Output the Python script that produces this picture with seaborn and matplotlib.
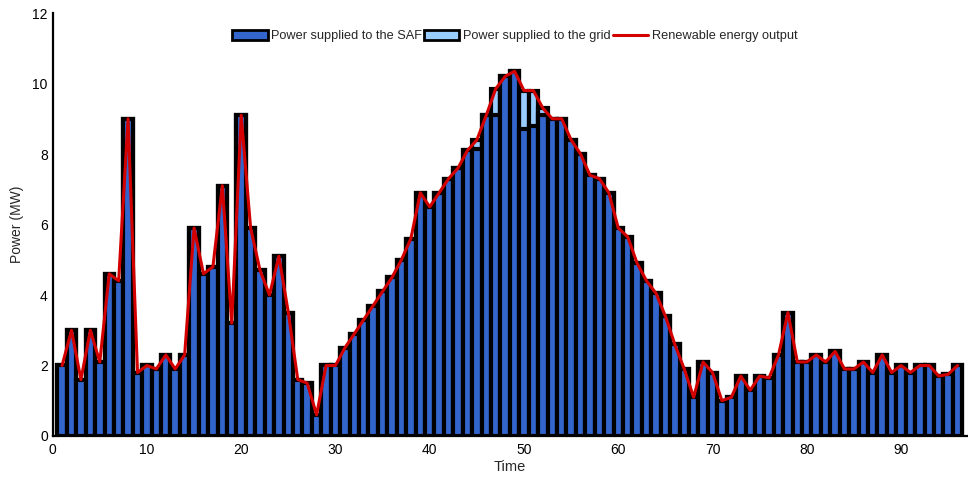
import numpy as np
import pandas as pd
import matplotlib
matplotlib.use("Agg")
import matplotlib.pyplot as plt
import seaborn as sns
from matplotlib.patches import Patch
from matplotlib.lines import Line2D

time = list(range(1, 97))
saf = [2.0, 3.0, 1.6, 3.0, 2.1, 4.6, 4.4, 9.0, 1.8, 2.0, 1.9, 2.3,
       1.9, 2.3, 5.9, 4.6, 4.8, 7.1, 3.2, 9.1, 5.9, 4.7, 4.0, 5.1,
       3.5, 1.6, 1.5, 0.6, 2.0, 2.0, 2.5, 2.9, 3.3, 3.7, 4.1, 4.5,
       5.0, 5.6, 6.9, 6.5, 6.9, 7.3, 7.6, 8.1, 8.15, 9.1, 9.1, 10.2,
       10.35, 8.7, 8.8, 9.1, 9.0, 9.0, 8.4, 8.0, 7.4, 7.3, 6.9, 5.9,
       5.65, 4.9, 4.4, 4.05, 3.4, 2.6, 1.9, 1.1, 2.1, 1.8, 1.0, 1.1,
       1.7, 1.3, 1.7, 1.65, 2.3, 3.5, 2.1, 2.1, 2.3, 2.1, 2.4, 1.9,
       1.9, 2.1, 1.8, 2.3, 1.8, 2.0, 1.8, 2.0, 2.0, 1.7, 1.75, 2.0]
grid = [0.0] * 96
grid[44] = 0.25   # t=45
grid[46] = 0.75   # t=47
grid[49] = 1.1    # t=50
grid[50] = 1.0    # t=51
grid[51] = 0.2    # t=52
renewable = [s + g for s, g in zip(saf, grid)]

df = pd.DataFrame({"Time": time, "SAF": saf, "Grid": grid, "Renewable": renewable})
df["Total"] = df["SAF"] + df["Grid"]

sns.set_style("white")
plt.rcParams["font.family"] = ["Liberation Sans", "DejaVu Sans"]

dark_blue = "#3366cc"
light_blue = "#99ccff"
red = "#d40000"

fig = plt.figure(figsize=(9.68, 4.79), dpi=100)
ax = fig.add_axes([0.0544, 0.0898, 0.9446, 0.883])

sns.barplot(data=df, x="Time", y="Total", native_scale=True, width=1.0,
            color=light_blue, saturation=1, edgecolor="black", linewidth=3.0,
            ax=ax, zorder=2)
sns.barplot(data=df, x="Time", y="SAF", native_scale=True, width=1.0,
            color=dark_blue, saturation=1, edgecolor="black", linewidth=3.0,
            ax=ax, zorder=3)
sns.lineplot(data=df, x="Time", y="Renewable", color=red, linewidth=2.2,
             ax=ax, zorder=5)

ax.set_xlim(0, 97)
ax.set_ylim(0, 12)
ax.set_xticks(range(0, 100, 10))
ax.set_yticks(range(0, 13, 2))
ax.set_xlabel("Time", fontsize=10.5, labelpad=2)
ax.set_ylabel("Power (MW)", fontsize=10, labelpad=6)
ax.tick_params(axis="both", direction="in", length=6, width=1.6, labelsize=10,
               colors="black")
ax.tick_params(axis="x", pad=5)
for side in ["top", "right"]:
    ax.spines[side].set_visible(False)
for side in ["left", "bottom"]:
    ax.spines[side].set_linewidth(1.6)
    ax.spines[side].set_color("black")

handles = [
    Patch(facecolor=dark_blue, edgecolor="black", linewidth=2),
    Patch(facecolor=light_blue, edgecolor="black", linewidth=2),
    Line2D([0], [0], color=red, linewidth=2.2),
]
labels = ["Power supplied to the SAF", "Power supplied to the grid",
          "Renewable energy output"]
ax.legend(handles, labels, loc="upper center", bbox_to_anchor=(0.5056, 0.987),
          ncol=3, frameon=False, fontsize=9.2, handlelength=2.75,
          handletextpad=0.3, columnspacing=0.15, handleheight=0.8)

fig.savefig("out.png", dpi=100)
